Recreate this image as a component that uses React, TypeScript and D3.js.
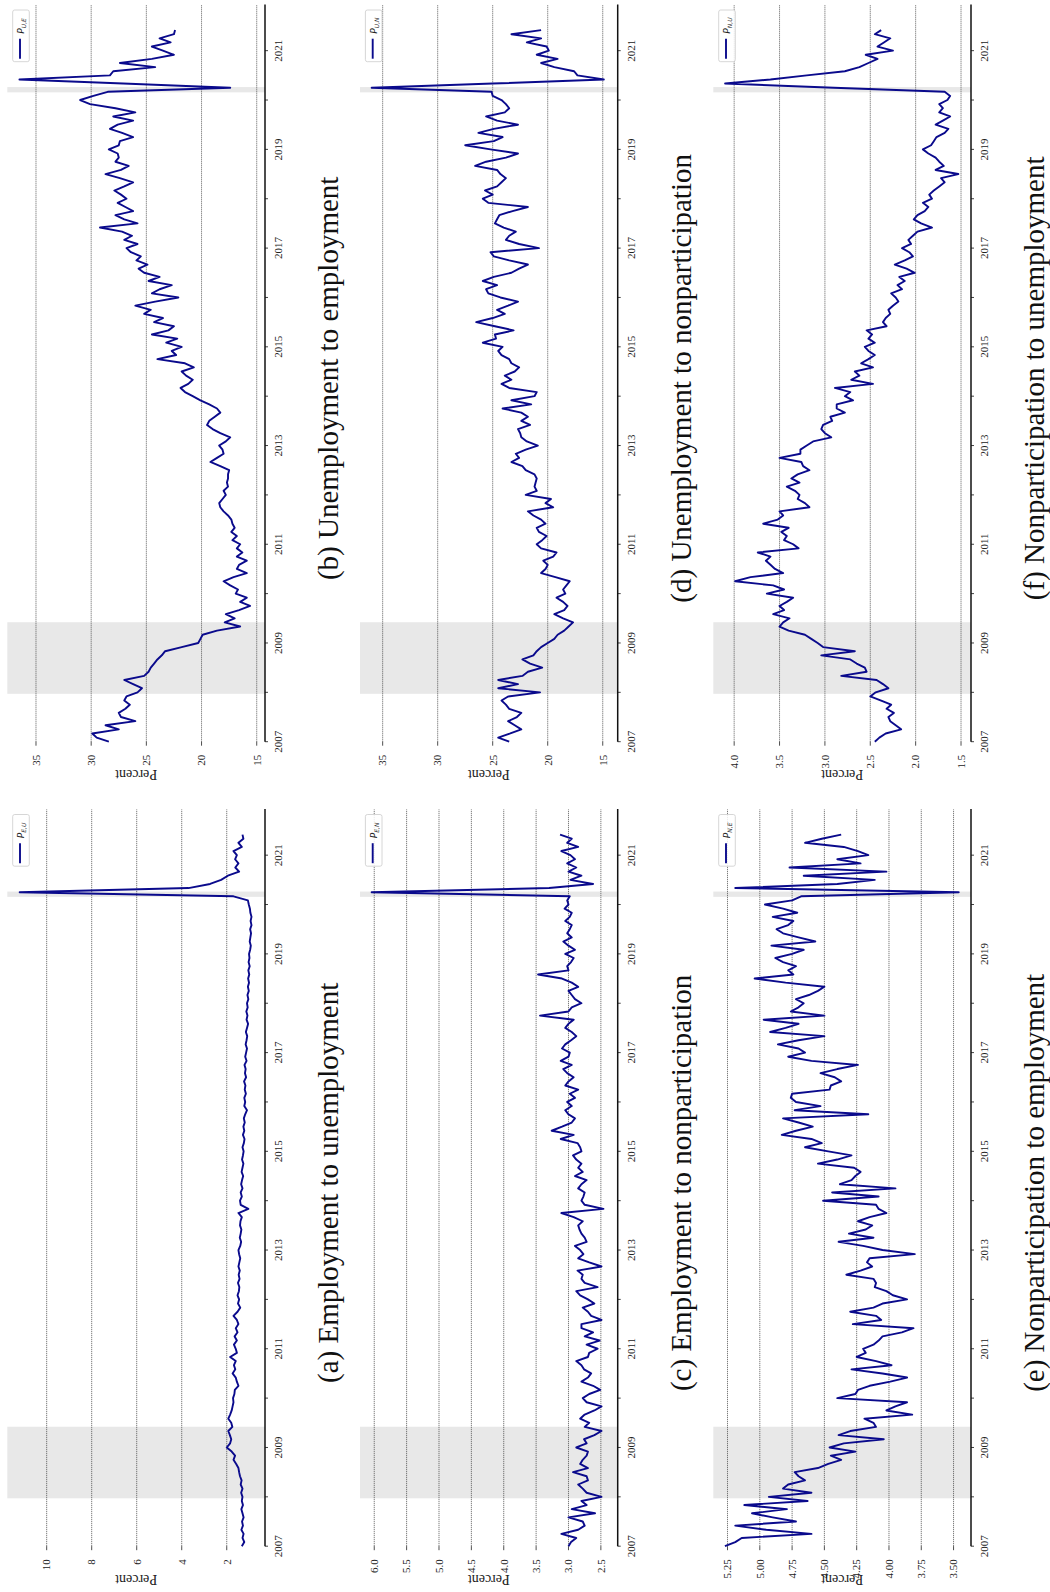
import React from 'react';
import * as d3 from 'd3';

// monthly observations, Jan 2007 .. Jun 2021
const months = d3.range(174).map((i) => 2007 + i / 12);

const pEU = [
  1.33, 1.22, 1.30, 1.25, 1.35, 1.28, 1.32, 1.25, 1.30, 1.35, 1.28, 1.33,
  1.30, 1.36, 1.30, 1.38, 1.34, 1.41, 1.45, 1.48, 1.58, 1.70, 1.63, 1.78,
  2.00, 1.85, 1.80, 1.86, 1.93, 1.75, 1.80, 1.93, 1.85, 1.78, 1.74, 1.70,
  1.72, 1.66, 1.64, 1.48, 1.55, 1.60, 1.74, 1.62, 1.68, 1.60, 1.85, 1.55,
  1.60, 1.68, 1.55, 1.65, 1.52, 1.60, 1.48, 1.55, 1.70, 1.52, 1.40, 1.50,
  1.45, 1.52, 1.46, 1.44, 1.50, 1.43, 1.47, 1.42, 1.48, 1.44, 1.40, 1.45,
  1.48, 1.40, 1.36, 1.42, 1.38, 1.35, 1.41, 1.39, 1.33, 1.48, 1.04, 1.38,
  1.41, 1.33, 1.38, 1.30, 1.36, 1.32, 1.27, 1.34, 1.30, 1.26, 1.32, 1.28,
  1.25, 1.30, 1.24, 1.21, 1.28, 1.22, 1.26, 1.20, 1.24, 1.18, 1.10, 1.22,
  1.18, 1.22, 1.15, 1.20, 1.17, 1.23, 1.14, 1.19, 1.16, 1.21, 1.12, 1.18,
  1.14, 1.10, 1.16, 1.12, 1.09, 1.15, 1.10, 1.05, 1.12, 1.08, 1.13, 1.07,
  1.10, 1.04, 1.08, 1.02, 1.06, 1.01, 1.05, 1.00, 1.04, 0.98, 1.03, 0.99,
  1.01, 0.96, 0.93, 0.98, 0.95, 0.92, 0.96, 0.90, 0.94, 0.90, 0.95, 0.97,
  1.02, 1.06, 1.70, 11.2, 3.70, 2.74, 2.25, 1.95, 1.45, 1.62, 1.48, 1.63,
  1.55, 1.70, 1.33, 1.48, 1.26, 1.30,
];

const pUE = [
  28.4, 29.5, 29.9, 27.5, 28.7, 26.0, 27.3, 27.5, 26.9, 26.5, 27.0, 26.8,
  25.8, 25.4, 26.2, 27.0, 25.2, 24.8, 24.6, 24.3, 24.0, 23.6, 23.3, 21.8,
  20.3, 20.1, 19.9, 18.6, 16.5, 17.9, 17.0, 17.8, 16.6, 15.6, 16.5, 15.9,
  16.9, 16.7, 17.4, 18.0, 17.1, 15.9, 16.8, 16.6, 15.9, 16.8, 16.3, 16.8,
  16.5, 17.2, 16.8, 17.3, 17.0, 17.2, 17.3, 17.6, 18.0, 18.3, 18.4, 18.1,
  17.8, 18.0, 17.6, 17.7, 17.6, 17.6, 17.5, 18.3, 19.2, 18.6, 18.0, 18.1,
  18.4, 17.8, 17.4, 18.3, 19.0, 19.5, 19.3, 18.8, 18.3, 18.6, 19.3, 20.1,
  20.8, 21.5, 21.9, 21.2, 20.8, 21.4, 21.8, 20.7, 21.5, 24.0, 22.3, 22.7,
  21.8, 23.2, 22.2, 24.5, 23.0, 22.5, 24.3, 23.5, 25.2, 24.6, 26.0, 24.2,
  22.1, 24.5, 23.8, 22.7, 24.8, 23.8, 25.2, 25.7, 24.9, 25.9, 25.5, 26.4,
  26.8, 25.8, 27.0, 26.3, 27.2, 29.2, 25.8, 27.0, 27.8, 26.2, 26.9, 27.6,
  26.8, 27.3, 27.9, 27.0, 26.2, 27.4, 28.7, 27.3, 26.6, 27.8, 27.5, 27.6,
  28.4, 27.5, 27.4, 26.2, 27.2, 28.3, 27.6, 26.2, 28.0, 26.0, 27.8, 30.1,
  31.0, 29.8, 28.5, 17.4, 27.1, 36.5, 28.3, 28.0, 24.2, 27.4, 24.5, 22.5,
  23.5, 24.5, 22.8, 23.8, 22.5, 22.4,
];

const pEN = [
  3.00, 2.96, 2.88, 3.11, 2.85, 2.75, 2.78, 3.00, 2.59, 2.95, 2.72, 2.80,
  2.49, 2.72, 2.78, 2.85, 2.70, 2.72, 2.93, 2.70, 2.82, 2.78, 2.72, 2.70,
  2.88, 2.72, 2.76, 2.60, 2.49, 2.75, 2.68, 2.82, 2.75, 2.60, 2.49, 2.72,
  2.78, 2.68, 2.51, 2.62, 2.80, 2.70, 2.65, 2.76, 2.80, 2.88, 2.70, 2.68,
  2.55, 2.72, 2.52, 2.75, 2.62, 2.80, 2.80, 2.49, 2.65, 2.70, 2.78, 2.60,
  2.70, 2.82, 2.88, 2.55, 2.75, 2.80, 2.78, 2.86, 2.49, 2.68, 2.85, 2.77,
  2.82, 2.90, 2.72, 2.75, 2.80, 2.83, 2.85, 2.78, 2.92, 3.11, 2.46, 2.75,
  2.80, 2.77, 2.75, 2.85, 2.80, 2.72, 2.90, 2.78, 2.85, 2.80, 2.88, 2.93,
  2.80, 2.82, 2.86, 3.12, 2.92, 3.26, 3.10, 2.95, 2.90, 3.00, 3.05, 2.95,
  3.02, 2.90, 2.98, 2.85, 3.05, 3.00, 2.92, 3.02, 3.08, 2.95, 3.12, 3.00,
  2.98, 3.10, 3.05, 2.96, 2.88, 2.95, 3.05, 3.00, 2.92, 3.44, 3.00, 2.95,
  2.80, 2.90, 2.95, 3.00, 2.85, 2.95, 3.10, 3.47, 3.00, 3.02, 2.96, 2.92,
  3.05, 2.90, 3.00, 3.08, 2.95, 3.02, 2.98, 2.95, 3.05, 2.98, 2.95, 3.06,
  3.00, 3.02, 2.98, 6.04, 3.30, 2.62, 2.97, 2.80, 3.00, 2.88, 3.02, 2.90,
  2.97, 3.11, 2.85, 3.02, 2.95, 3.13,
];

const pUN = [
  23.5, 24.5, 23.4, 22.4, 23.0, 23.6, 22.8, 22.4, 23.5, 23.8, 24.2, 23.6,
  20.7, 24.5, 22.7, 24.5, 22.3, 21.8, 20.5, 21.6, 22.3, 21.3, 21.0, 20.6,
  20.0, 19.4, 19.1, 18.5, 18.1, 17.7, 18.6, 19.4, 18.5, 18.2, 18.6, 19.2,
  18.4, 18.6, 18.3, 18.0, 19.3, 20.6, 20.2, 20.0, 20.4, 19.5, 19.2, 20.6,
  21.0, 20.5, 20.1, 20.8, 21.0, 20.2, 20.6, 21.3, 21.8, 19.5, 20.2, 19.7,
  22.0, 21.0, 21.2, 21.1, 21.0, 21.2, 22.0, 22.3, 23.3, 22.6, 22.9, 22.0,
  20.9, 21.9, 22.4, 22.5, 22.7, 21.6, 22.4, 21.8, 22.4, 24.1, 21.5, 23.3,
  21.2, 21.0, 23.5, 24.2, 23.3, 23.9, 23.0, 22.6, 23.3, 23.5, 24.2, 24.5,
  24.1, 25.9, 24.7, 24.8, 23.1, 24.8, 26.5, 25.0, 23.9, 24.6, 23.6, 22.7,
  24.3, 25.4, 25.6, 24.6, 25.9, 24.9, 23.3, 22.6, 21.8, 23.5, 24.9, 25.2,
  20.8, 22.6, 23.8, 23.5, 22.9, 24.0, 24.8, 24.6, 24.4, 23.2, 21.8, 25.4,
  25.9, 25.0, 25.7, 24.6, 24.2, 23.8, 24.3, 24.6, 26.6, 25.6, 23.8, 22.7,
  25.2, 27.5, 24.9, 24.1, 26.3, 24.9, 22.7, 24.6, 25.6, 23.9, 23.5, 23.8,
  24.2, 25.0, 25.1, 36.0, 25.0, 14.9, 17.3, 17.6, 19.4, 20.6, 19.1, 21.0,
  19.9, 20.1, 21.9, 20.6, 23.3, 20.6,
];

const pNE = [
  5.27, 5.19, 5.14, 4.60, 4.95, 5.19, 4.72, 4.90, 5.06, 4.79, 5.12, 4.63,
  4.93, 4.60, 4.82, 4.78, 4.65, 4.70, 4.73, 4.55, 4.47, 4.37, 4.45, 4.26,
  4.46, 4.35, 4.04, 4.39, 4.30, 4.10, 4.12, 4.19, 3.82, 4.02, 3.95, 3.86,
  4.40, 4.26, 4.24, 4.15, 3.99, 3.86, 4.05, 4.29, 3.98, 4.10, 4.25, 4.18,
  4.20, 4.12, 4.08, 4.05, 3.90, 3.81, 4.28, 4.06, 4.10, 4.30, 4.12, 4.05,
  3.86, 3.97, 4.02, 4.11, 4.10, 4.12, 4.33, 4.22, 4.13, 4.17, 4.15, 3.80,
  4.05, 4.20, 4.39, 4.12, 4.31, 4.18, 4.13, 4.24, 4.15, 4.02, 4.08, 4.10,
  4.51, 4.08, 4.44, 3.95, 4.38, 4.29, 4.26, 4.22, 4.27, 4.55, 4.40, 4.29,
  4.47, 4.65, 4.52, 4.60, 4.83, 4.72, 4.59, 4.70, 4.82, 4.16, 4.73, 4.53,
  4.72, 4.76, 4.75, 4.46, 4.45, 4.37, 4.42, 4.53, 4.40, 4.24, 4.60, 4.78,
  4.65, 4.70, 4.86, 4.70, 4.50, 4.92, 4.80, 4.70, 4.97, 4.50, 4.76, 4.70,
  4.66, 4.72, 4.62, 4.55, 4.50, 4.80, 5.04, 4.74, 4.78, 4.72, 4.82, 4.88,
  4.75, 4.66, 4.91, 4.57, 4.70, 4.82, 4.87, 4.78, 4.74, 4.90, 4.71, 4.82,
  4.96, 4.75, 4.68, 3.46, 5.19, 4.40, 4.11, 4.66, 4.02, 4.77, 4.22, 4.40,
  4.16, 4.24, 4.35, 4.65, 4.52, 4.37,
];

const pNU = [
  2.45, 2.40, 2.33, 2.16, 2.22, 2.28, 2.30, 2.24, 2.32, 2.27, 2.38, 2.50,
  2.44, 2.30, 2.36, 2.43, 2.82, 2.54, 2.56, 2.65, 2.72, 3.04, 2.67, 3.02,
  3.08, 3.15, 3.22, 3.40, 3.50, 3.46, 3.39, 3.57, 3.45, 3.50, 3.42, 3.35,
  3.64, 3.45, 3.57, 3.99, 3.82, 3.46, 3.55, 3.60, 3.65, 3.60, 3.74, 3.29,
  3.35, 3.45, 3.42, 3.48, 3.40, 3.68, 3.52, 3.46, 3.50, 3.17, 3.22, 3.30,
  3.28, 3.33, 3.42, 3.28, 3.37, 3.30, 3.17, 3.24, 3.26, 3.50, 3.27, 3.27,
  3.20, 3.13, 2.93, 3.00, 3.04, 3.02, 2.92, 2.94, 2.78, 2.87, 2.87, 2.69,
  2.78, 2.72, 2.89, 2.47, 2.71, 2.62, 2.67, 2.47, 2.60, 2.52, 2.45, 2.52,
  2.56, 2.45, 2.52, 2.48, 2.54, 2.32, 2.36, 2.33, 2.28, 2.30, 2.25, 2.19,
  2.22, 2.27, 2.15, 2.20, 2.12, 2.18, 2.01, 2.10, 2.23, 2.12, 2.03, 2.07,
  2.15, 2.05, 2.08, 2.03, 1.98, 1.82, 1.94, 2.02, 1.98, 1.90, 1.86, 1.92,
  1.82, 1.85, 1.80, 1.74, 1.68, 1.72, 1.53, 1.78, 1.69, 1.74, 1.78, 1.86,
  1.92, 1.83, 1.80, 1.77, 1.68, 1.64, 1.78, 1.70, 1.62, 1.74, 1.70, 1.74,
  1.65, 1.62, 1.68, 2.90, 4.10, 3.60, 3.20, 2.78, 2.62, 2.52, 2.42, 2.55,
  2.25, 2.42, 2.35, 2.28, 2.45, 2.38,
];

// recession bands (fractional years)
const recessions = [
  [2007.97, 2009.42],
  [2020.155, 2020.262],
];

const yearTicks = d3.range(2007, 2022);
const yearLabels = [2007, 2009, 2011, 2013, 2015, 2017, 2019, 2021];

const ticksEU = [2, 4, 6, 8, 10];
const ticksUE = [15, 20, 25, 30, 35];
const ticksEN = [2.5, 3.0, 3.5, 4.0, 4.5, 5.0, 5.5, 6.0];
const ticksUN = [15, 20, 25, 30, 35];
const ticksNE = [3.5, 3.75, 4.0, 4.25, 4.5, 4.75, 5.0, 5.25];
const ticksNU = [1.5, 2.0, 2.5, 3.0, 3.5, 4.0];

const panels = [
  { sub: 'E,U', values: pEU, col: 0, row: 0, domain: [0.3, 11.75], ticks: ticksEU, fmt: d3.format('d'), caption: '(a) Employment to unemployment' },
  { sub: 'U,E', values: pUE, col: 1, row: 0, domain: [14.25, 37.6], ticks: ticksUE, fmt: d3.format('d'), caption: '(b) Unemployment to employment' },
  { sub: 'E,N', values: pEN, col: 0, row: 1, domain: [2.24, 6.22], ticks: ticksEN, fmt: d3.format('.1f'), caption: '(c) Employment to nonparticipation' },
  { sub: 'U,N', values: pUN, col: 1, row: 1, domain: [13.64, 37.06], ticks: ticksUN, fmt: d3.format('d'), caption: '(d) Unemployment to nonparticipation' },
  { sub: 'N,E', values: pNE, col: 0, row: 2, domain: [3.365, 5.36], ticks: ticksNE, fmt: d3.format('.2f'), caption: '(e) Nonparticipation to employment' },
  { sub: 'N,U', values: pNU, col: 1, row: 2, domain: [1.39, 4.23], ticks: ticksNU, fmt: d3.format('.1f'), caption: '(f) Nonparticipation to unemployment' },
];

// page is drawn in landscape coordinates and turned a quarter to the left
const PAGE_H = 1592;
const plotW = 736.7;
const plotH = 257.7;
const colX = [45.8, 850.3];
const rowY = [7.3, 360, 713.3];
const lineColor = '#0a0a8c';
const serif = '"Liberation Serif", "Times New Roman", serif';

const Panel = ({ p }) => {
  const x0 = colX[p.col];
  const y0 = rowY[p.row];
  const x = d3.scaleLinear().domain([2007, 2021.925]).range([x0, x0 + plotW]);
  const y = d3.scaleLinear().domain(p.domain).range([y0 + plotH, y0]);
  const line = d3
    .line()
    .x((d) => x(d[0]))
    .y((d) => y(d[1]));
  const pts = months.map((m, i) => [m, p.values[i]]);
  const base = y0 + plotH;
  const cx = x0 + plotW / 2;

  return (
    <g>
      {/* recession shading */}
      {recessions.map(([a, b], i) => (
        <rect key={i} x={x(a)} y={y0} width={x(b) - x(a)} height={plotH} fill="#e8e8e8" />
      ))}
      {/* value grid */}
      {p.ticks.map((t) => (
        <g key={t}>
          <line x1={x0} x2={x0 + plotW} y1={y(t)} y2={y(t)} stroke="#333" strokeWidth={0.8} strokeDasharray="1 1" />
          <line x1={x0 - 4} x2={x0} y1={y(t)} y2={y(t)} stroke="#222" strokeWidth={0.8} />
          <text x={x0 - 13} y={y(t) + 3.8} textAnchor="end" fontFamily={serif} fontSize={11} fill="#222">
            {p.fmt(t)}
          </text>
        </g>
      ))}
      {/* series */}
      <path d={line(pts)} fill="none" stroke={lineColor} strokeWidth={1.9} strokeLinejoin="round" />
      {/* time axis */}
      <line x1={x0} x2={x0 + plotW + 0.5} y1={base} y2={base} stroke="#111" strokeWidth={1.5} />
      {yearTicks.map((yr) => (
        <line key={yr} x1={x(yr)} x2={x(yr)} y1={base} y2={base + 3} stroke="#111" strokeWidth={0.8} />
      ))}
      {yearLabels.map((yr) => (
        <text key={yr} x={x(yr)} y={base + 17} textAnchor="middle" fontFamily={serif} fontSize={11} fill="#222">
          {yr}
        </text>
      ))}
      <text
        transform={`translate(${x0 - 28.5},${y0 + plotH / 2}) rotate(-90)`}
        textAnchor="middle"
        fontFamily={serif}
        fontSize={14}
        fill="#222"
      >
        Percent
      </text>
      {/* legend */}
      <rect x={x0 + 680} y={y0 + 5.4} width={51.7} height={16.6} rx={2} fill="#fff" fillOpacity={0.85} stroke="#ccc" strokeWidth={0.8} />
      <line x1={x0 + 683} x2={x0 + 703} y1={y0 + 12.7} y2={y0 + 12.7} stroke={lineColor} strokeWidth={1.9} />
      <text x={x0 + 708} y={y0 + 16.5} fontFamily='"DejaVu Sans", sans-serif' fontStyle="italic" fontSize={9} fill="#222">
        P
        <tspan fontSize={6} dy={2}>
          {p.sub}
        </tspan>
      </text>
      {/* caption */}
      <text x={cx - 5} y={y0 + 330.7} textAnchor="middle" fontFamily={serif} fontSize={29} fill="#111">
        {p.caption}
      </text>
    </g>
  );
};

export default function App() {
  return (
    <svg width={1050} height={1592} style={{ position: 'absolute', left: 0, top: 0, background: '#fff' }}>
      <g transform={`translate(0,${PAGE_H}) rotate(-90)`}>
        {panels.map((p) => (
          <Panel key={p.sub} p={p} />
        ))}
      </g>
    </svg>
  );
}
